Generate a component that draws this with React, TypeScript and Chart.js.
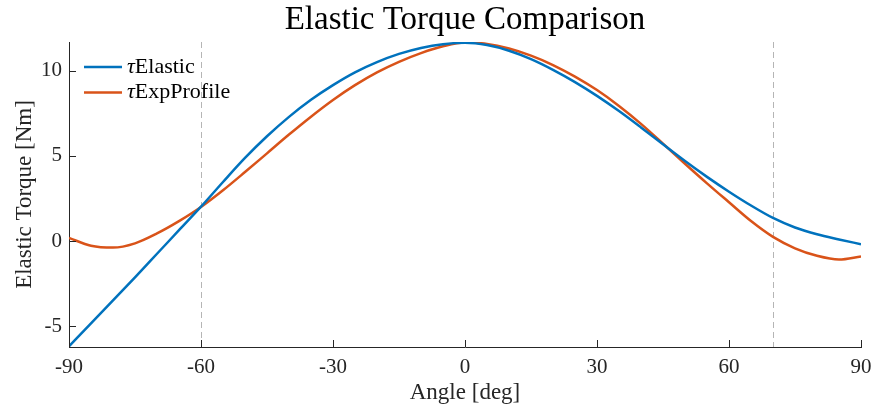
import React, { useEffect, useRef } from "react";
import { Chart, registerables } from "chart.js";

Chart.register(...registerables);

// ---- data ----
const angles = [
  -90, -85, -80, -75, -70, -65, -60, -55, -50, -45, -40, -35, -30, -25, -20, -15, -10, -5,
  0, 5, 10, 15, 20, 25, 30, 35, 40, 45, 50, 55, 60, 65, 70, 75, 80, 85, 90,
];
const tauElastic = [
  -6.17, -4.83, -3.48, -2.12, -0.74, 0.64, 2.02, 3.47, 4.88, 6.15, 7.29, 8.29, 9.15, 9.9, 10.5, 10.98, 11.33, 11.55,
  11.63, 11.5, 11.17, 10.68, 10.05, 9.33, 8.52, 7.63, 6.67, 5.68, 4.7, 3.77, 2.9, 2.09, 1.36, 0.8, 0.4, 0.1, -0.18,
];
const tauExpProfile = [
  0.19, -0.27, -0.38, -0.13, 0.45, 1.17, 2.0, 2.98, 4.05, 5.15, 6.25, 7.3, 8.28, 9.15, 9.9, 10.52, 11.03, 11.43,
  11.65, 11.57, 11.3, 10.88, 10.33, 9.65, 8.86, 7.93, 6.88, 5.72, 4.54, 3.39, 2.28, 1.18, 0.25, -0.42, -0.86, -1.08, -0.9,
];
const seriesLabels = ["τElastic", "τExpProfile"];
const xTicks = [-90, -60, -30, 0, 30, 60, 90];
const yTicks = [-5, 0, 5, 10];
const markerAngles = [-60, 70];

const FONT = "'Liberation Serif', 'Times New Roman', serif";
const AXIS = "#262626";
const BLUE = "#0072BD";
const ORANGE = "#D95319";

export default function App() {
  const ref = useRef<HTMLCanvasElement>(null);

  useEffect(() => {
    const canvas = ref.current;
    if (!canvas) return;

    const overlay = {
      id: "overlay",
      beforeDatasetsDraw(chart: any) {
        const { ctx, chartArea, scales } = chart;
        const x = scales.x;
        ctx.save();
        ctx.strokeStyle = "#b5b5b5";
        ctx.lineWidth = 1;
        ctx.setLineDash([6, 4]);
        markerAngles.forEach((a) => {
          const px = Math.round(x.getPixelForValue(a)) + 0.5;
          ctx.beginPath();
          ctx.moveTo(px, chartArea.top);
          ctx.lineTo(px, chartArea.bottom);
          ctx.stroke();
        });
        ctx.restore();
      },
      afterDraw(chart: any) {
        const { ctx, chartArea, scales } = chart;
        const x = scales.x;
        const y = scales.y;
        ctx.save();
        // inward tick marks
        ctx.strokeStyle = AXIS;
        ctx.lineWidth = 1;
        xTicks.forEach((v) => {
          const px = Math.round(x.getPixelForValue(v)) + 0.5;
          ctx.beginPath();
          ctx.moveTo(px, chartArea.bottom);
          ctx.lineTo(px, chartArea.bottom - 7);
          ctx.stroke();
        });
        yTicks.forEach((v) => {
          const py = Math.round(y.getPixelForValue(v)) + 0.5;
          ctx.beginPath();
          ctx.moveTo(chartArea.left, py);
          ctx.lineTo(chartArea.left + 7, py);
          ctx.stroke();
        });

        // title
        ctx.fillStyle = "#000";
        ctx.font = `33px ${FONT}`;
        ctx.textAlign = "center";
        ctx.textBaseline = "alphabetic";
        ctx.fillText("Elastic Torque Comparison", (chartArea.left + chartArea.right) / 2, 29);

        // legend
        const ds = chart.data.datasets;
        ds.forEach((d: any, i: number) => {
          const ly = chartArea.top + 25 + i * 25.5;
          ctx.strokeStyle = d.borderColor;
          ctx.lineWidth = 2.5;
          ctx.beginPath();
          ctx.moveTo(chartArea.left + 15, ly);
          ctx.lineTo(chartArea.left + 53, ly);
          ctx.stroke();
          ctx.fillStyle = "#000";
          ctx.textAlign = "left";
          ctx.textBaseline = "middle";
          const label: string = d.label;
          const first = label.charAt(0);
          const rest = label.slice(1);
          let tx = chartArea.left + 58;
          ctx.font = `italic 22px ${FONT}`;
          ctx.fillText(first, tx, ly);
          tx += ctx.measureText(first).width;
          ctx.font = `22px ${FONT}`;
          ctx.fillText(rest, tx, ly);
        });
        ctx.restore();
      },
    };

    const chart = new Chart(canvas, {
      type: "line",
      data: {
        datasets: [
          {
            label: seriesLabels[0],
            data: angles.map((a, i) => ({ x: a, y: tauElastic[i] })),
            borderColor: BLUE,
            borderWidth: 2.5,
            pointRadius: 0,
            cubicInterpolationMode: "monotone",
            fill: false,
          },
          {
            label: seriesLabels[1],
            data: angles.map((a, i) => ({ x: a, y: tauExpProfile[i] })),
            borderColor: ORANGE,
            borderWidth: 2.5,
            pointRadius: 0,
            cubicInterpolationMode: "monotone",
            fill: false,
          },
        ],
      },
      options: {
        responsive: false,
        devicePixelRatio: 1,
        animation: false,
        layout: { padding: { top: 42, right: 11, left: 0, bottom: 0 } },
        plugins: {
          legend: { display: false },
          title: { display: false },
          tooltip: { enabled: false },
        },
        scales: {
          x: {
            type: "linear",
            min: -90,
            max: 90,
            afterBuildTicks: (s: any) => {
              s.ticks = xTicks.map((v) => ({ value: v }));
            },
            afterFit: (s: any) => {
              s.height = 63;
              s.paddingLeft = 0;
              s.paddingRight = 0;
            },
            grid: { display: false, drawTicks: false },
            border: { display: true, color: AXIS, width: 1 },
            ticks: {
              color: AXIS,
              font: { family: FONT, size: 21 },
              padding: 8,
              maxRotation: 0,
              autoSkip: false,
              callback: (v: any) => String(v),
            },
            title: {
              display: true,
              text: "Angle [deg]",
              color: AXIS,
              font: { family: FONT, size: 23 },
              padding: { top: 0, bottom: 3 },
            },
          },
          y: {
            type: "linear",
            min: -6.21,
            max: 11.68,
            afterBuildTicks: (s: any) => {
              s.ticks = yTicks.map((v) => ({ value: v }));
            },
            afterFit: (s: any) => {
              s.width = 69;
              s.paddingTop = 0;
              s.paddingBottom = 0;
            },
            grid: { display: false, drawTicks: false },
            border: { display: true, color: AXIS, width: 1 },
            ticks: {
              color: AXIS,
              font: { family: FONT, size: 21 },
              padding: 7,
              autoSkip: false,
              callback: (v: any) => String(v),
            },
            title: {
              display: true,
              text: "Elastic Torque [Nm]",
              color: AXIS,
              font: { family: FONT, size: 23 },
              padding: { top: 11, bottom: 0 },
            },
          },
        },
      },
      plugins: [overlay],
    } as any);

    return () => chart.destroy();
  }, []);

  return (
    <div style={{ position: "absolute", left: 0, top: 0, width: 872, height: 410, background: "#fff" }}>
      <canvas ref={ref} width={872} height={410} style={{ display: "block", width: 872, height: 410 }} />
    </div>
  );
}
